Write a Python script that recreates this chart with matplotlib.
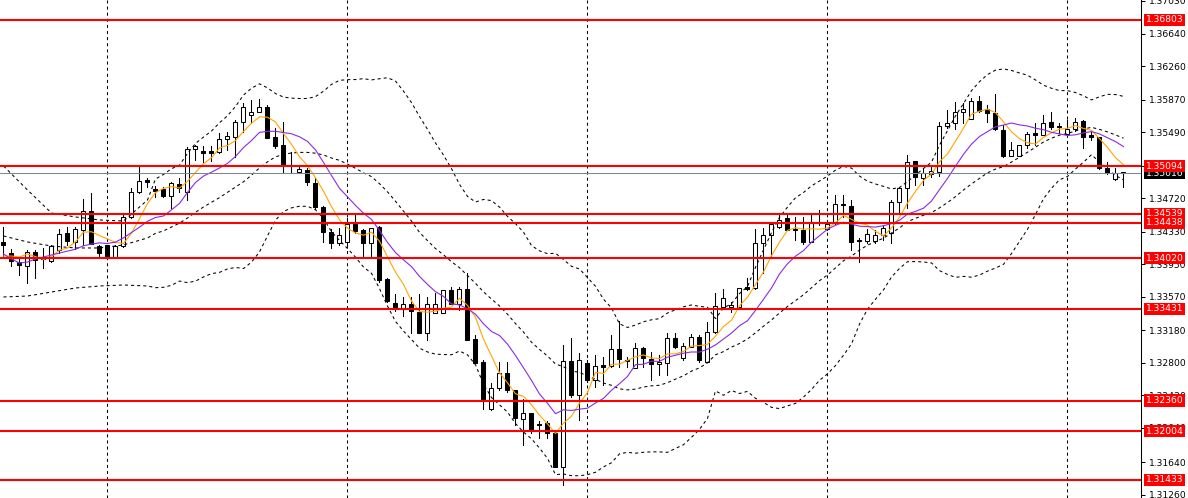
import numpy as np
import pandas as pd
import matplotlib
matplotlib.use("Agg")
import matplotlib.pyplot as plt
import matplotlib.transforms as mtransforms
from matplotlib.patches import Rectangle

plt.rcParams["lines.scale_dashes"] = False

# OHLC of each bar
opens = [
    1.34211, 1.34082, 1.33977, 1.33931, 1.34094, 1.34024, 1.33989, 1.34117, 1.34316, 1.34211,
    1.34351, 1.34573, 1.34164, 1.34176, 1.34024, 1.34164, 1.34503, 1.34795, 1.34935, 1.34830,
    1.34830, 1.34748, 1.34888, 1.34795, 1.35297, 1.35273, 1.35273, 1.35262, 1.35413, 1.35437,
    1.35612, 1.35693, 1.35728, 1.35787, 1.35437, 1.35343, 1.35110, 1.35028, 1.35051, 1.34900,
    1.34619, 1.34328, 1.34199, 1.34211, 1.34421, 1.34351, 1.34199, 1.34386, 1.33779, 1.33499,
    1.33429, 1.33487, 1.33394, 1.33149, 1.33382, 1.33382, 1.33650, 1.33487, 1.33662, 1.33078,
    1.32810, 1.32261, 1.32506, 1.32682, 1.32483, 1.32145, 1.32215, 1.32086, 1.32098, 1.31981,
    1.31584, 1.32822, 1.32425, 1.32798, 1.32600, 1.32775, 1.32763, 1.32962, 1.32833, 1.32740,
    1.32973, 1.32845, 1.32787, 1.32798, 1.33090, 1.32857, 1.32985, 1.33102, 1.32810, 1.33160,
    1.33452, 1.33452, 1.33452, 1.33686, 1.33674, 1.34199, 1.34293, 1.34386, 1.34491, 1.34363,
    1.34351, 1.34211, 1.34433, 1.34363, 1.34433, 1.34654, 1.34631, 1.34234, 1.34223, 1.34223,
    1.34293, 1.34316, 1.34678, 1.34841, 1.35156, 1.34958, 1.35005, 1.35028, 1.35565, 1.35600,
    1.35728, 1.35647, 1.35857, 1.35764, 1.35717, 1.35518, 1.35215, 1.35215, 1.35343, 1.35483,
    1.35460, 1.35612, 1.35565, 1.35472, 1.35530, 1.35623, 1.35460, 1.35437, 1.35075, 1.34946,
    1.35028,
]
highs = [
    1.34386, 1.34129, 1.34036, 1.34117, 1.34117, 1.34141, 1.34176, 1.34363, 1.34386, 1.34386,
    1.34713, 1.34783, 1.34176, 1.34176, 1.34176, 1.34549, 1.34841, 1.35086, 1.34958, 1.34865,
    1.34853, 1.34911, 1.34958, 1.35320, 1.35343, 1.35332, 1.35332, 1.35483, 1.35495, 1.35635,
    1.35834, 1.35869, 1.35880, 1.35810, 1.35542, 1.35612, 1.35262, 1.35110, 1.35075, 1.34958,
    1.34631, 1.34363, 1.34374, 1.34491, 1.34526, 1.34363, 1.34374, 1.34398, 1.33791, 1.33604,
    1.33569, 1.33569, 1.33604, 1.33569, 1.33615, 1.33650, 1.33686, 1.33686, 1.33849, 1.33125,
    1.32833, 1.32565, 1.32810, 1.32810, 1.32483, 1.32378, 1.32215, 1.32121, 1.32121, 1.31993,
    1.33008, 1.33090, 1.32915, 1.32833, 1.32892, 1.32868, 1.33125, 1.33289, 1.32868, 1.33032,
    1.32985, 1.32927, 1.32892, 1.33149, 1.33149, 1.33032, 1.33137, 1.33125, 1.33277, 1.33615,
    1.33662, 1.33510, 1.33674, 1.33791, 1.34363, 1.34374, 1.34444, 1.34526, 1.34526, 1.34503,
    1.34503, 1.34526, 1.34584, 1.34468, 1.34760, 1.34760, 1.34701, 1.34258, 1.34363, 1.34351,
    1.34398, 1.34701, 1.34841, 1.35226, 1.35156, 1.35075, 1.35110, 1.35612, 1.35752, 1.35845,
    1.35834, 1.35892, 1.35915, 1.35810, 1.35939, 1.35577, 1.35378, 1.35343, 1.35495, 1.35600,
    1.35693, 1.35728, 1.35600, 1.35635, 1.35658, 1.35635, 1.35495, 1.35437, 1.35145, 1.35075,
    1.35028,
]
lows = [
    1.34036, 1.33931, 1.33826, 1.33732, 1.33791, 1.33907, 1.33977, 1.34082, 1.34176, 1.34129,
    1.34176, 1.34188, 1.34036, 1.34024, 1.34024, 1.34153, 1.34491, 1.34783, 1.34853, 1.34736,
    1.34736, 1.34608, 1.34795, 1.34701, 1.35168, 1.35145, 1.35156, 1.35250, 1.35285, 1.35203,
    1.35495, 1.35600, 1.35728, 1.35425, 1.35308, 1.35028, 1.35016, 1.35016, 1.34876, 1.34596,
    1.34211, 1.34141, 1.34176, 1.34188, 1.34316, 1.34036, 1.34036, 1.33744, 1.33510, 1.33405,
    1.33347, 1.33149, 1.33149, 1.33067, 1.33382, 1.33382, 1.33487, 1.33417, 1.33067, 1.32798,
    1.32261, 1.32250, 1.32483, 1.32460, 1.32074, 1.31841, 1.31981, 1.31923, 1.31923, 1.31584,
    1.31374, 1.32401, 1.32133, 1.32577, 1.32518, 1.32542, 1.32752, 1.32752, 1.32752, 1.32740,
    1.32752, 1.32600, 1.32658, 1.32658, 1.32973, 1.32833, 1.32985, 1.32810, 1.32810, 1.33149,
    1.33440, 1.33394, 1.33440, 1.33650, 1.33662, 1.33849, 1.34024, 1.34374, 1.34351, 1.34234,
    1.34188, 1.34211, 1.34409, 1.34351, 1.34421, 1.34503, 1.34117, 1.33977, 1.34199, 1.34199,
    1.34234, 1.34199, 1.34561, 1.34608, 1.34876, 1.34876, 1.34970, 1.34981, 1.35542, 1.35530,
    1.35600, 1.35647, 1.35728, 1.35612, 1.35518, 1.35203, 1.35215, 1.35215, 1.35308, 1.35343,
    1.35460, 1.35530, 1.35483, 1.35472, 1.35507, 1.35308, 1.35402, 1.35063, 1.35005, 1.34935,
    1.34853,
]
closes = [
    1.34176, 1.33989, 1.33942, 1.34094, 1.34001, 1.34012, 1.34164, 1.34304, 1.34223, 1.34363,
    1.34573, 1.34188, 1.34082, 1.34024, 1.34164, 1.34503, 1.34795, 1.34923, 1.34911, 1.34806,
    1.34748, 1.34900, 1.34841, 1.35297, 1.35332, 1.35250, 1.35250, 1.35413, 1.35448, 1.35612,
    1.35787, 1.35728, 1.35787, 1.35425, 1.35332, 1.35110, 1.35098, 1.35063, 1.34911, 1.34619,
    1.34328, 1.34199, 1.34293, 1.34421, 1.34339, 1.34199, 1.34374, 1.33767, 1.33522, 1.33429,
    1.33487, 1.33405, 1.33149, 1.33487, 1.33487, 1.33650, 1.33487, 1.33662, 1.33067, 1.32798,
    1.32366, 1.32506, 1.32682, 1.32483, 1.32156, 1.32215, 1.32016, 1.32074, 1.31981, 1.31584,
    1.32822, 1.32425, 1.32833, 1.32600, 1.32763, 1.32752, 1.32962, 1.32845, 1.32822, 1.32973,
    1.32857, 1.32787, 1.32810, 1.33090, 1.32985, 1.32997, 1.33102, 1.32833, 1.33160, 1.33464,
    1.33557, 1.33475, 1.33674, 1.33662, 1.34199, 1.34293, 1.34421, 1.34468, 1.34351, 1.34351,
    1.34211, 1.34444, 1.34444, 1.34421, 1.34654, 1.34643, 1.34211, 1.34223, 1.34304, 1.34293,
    1.34374, 1.34678, 1.34841, 1.35145, 1.34970, 1.35016, 1.35040, 1.35565, 1.35600, 1.35728,
    1.35764, 1.35857, 1.35740, 1.35717, 1.35530, 1.35215, 1.35285, 1.35343, 1.35472, 1.35460,
    1.35600, 1.35553, 1.35553, 1.35530, 1.35612, 1.35437, 1.35437, 1.35075, 1.35016, 1.35016,
    1.35016,
]

# indicator values visible before enough history exists
band_head_idx = [0, 3, 6, 9, 12, 15, 18]
band_head_upper = [1.35098, 1.34818, 1.34549, 1.34503, 1.34468, 1.34456, 1.34701]
band_head_mid = [1.34281, 1.34211, 1.34164, 1.34141, 1.34141, 1.34176, 1.34258]
band_head_lower = [1.33569, 1.33580, 1.33627, 1.33674, 1.33697, 1.33709, 1.33697]
fast_head = [1.34047, 1.34047, 1.34036, 1.34071]
slow_head = [1.34071, 1.34012, 1.33966, 1.33977, 1.34012, 1.34036, 1.34059, 1.34082, 1.34106]

levels = [1.36803, 1.35094, 1.34539, 1.34438, 1.34020, 1.33431, 1.32360, 1.32004, 1.31433]
bid = 1.35016
yticks = [1.37030, 1.36640, 1.36260, 1.35870, 1.35490, 1.35100, 1.34720, 1.34330,
          1.33950, 1.33570, 1.33180, 1.32800, 1.32420, 1.32040, 1.31640, 1.31260]
grid_bars = [13, 43, 73, 103, 133]

n = len(closes)
close = pd.Series(closes)
fast = close.rolling(5).mean()
slow = close.rolling(10).mean()
mid = close.rolling(20).mean()
sd = close.rolling(20).std(ddof=0)

fig = plt.figure(figsize=(11.88, 4.98), dpi=100)
ax = fig.add_axes([0, 0, 1141 / 1188, 1])
ax.set_xlim(-0.4375, 142.19)
ax.set_ylim(1.31222, 1.37036)

for b in grid_bars:
    ax.axvline(b, color="black", lw=0.75, dashes=(2.2, 2.2), zorder=1)

# candles
for i in range(n):
    o, h, l, c = opens[i], highs[i], lows[i], closes[i]
    ax.plot([i, i], [l, h], color="black", lw=0.75, zorder=2)
    fc = "white" if c >= o else "black"
    ax.add_patch(Rectangle((i - 0.25, min(o, c)), 0.5, abs(c - o),
                           facecolor=fc, edgecolor="black", lw=0.75, zorder=3))

# bollinger bands
bx = band_head_idx + list(range(19, n))
upper = band_head_upper + list((mid + 2 * sd)[19:])
middle = band_head_mid + list(mid[19:])
lower = band_head_lower + list((mid - 2 * sd)[19:])
for band in (upper, middle, lower):
    ax.plot(bx, band, color="black", lw=0.75, dashes=(2.2, 2.2), zorder=4)

# moving averages
ax.plot(range(n), fast_head + list(fast[4:]), color="#FFA500", lw=0.8, zorder=4)
ax.plot(range(n), slow_head + list(slow[9:]), color="#8A2BE2", lw=0.8, zorder=4)

# horizontal levels
blend = mtransforms.blended_transform_factory(ax.transAxes, ax.transData)
for lv in levels:
    ax.axhline(lv, color="#FF0000", lw=1.5, zorder=5)
ax.axhline(bid, color="#778899", lw=0.75, zorder=5)

ax.yaxis.tick_right()
ax.set_yticks(yticks)
ax.set_yticklabels(["%.5f" % t for t in yticks])
ax.set_xticks([])
ax.tick_params(axis="y", direction="out", length=3, width=0.75, pad=3,
               labelsize=6.6, colors="black")
for s in ["left", "top", "bottom"]:
    ax.spines[s].set_visible(False)
ax.spines["right"].set_linewidth(0.75)

for lv in levels:
    ax.text(1.004, lv, "%.5f" % lv, transform=blend, va="center", ha="left",
            fontsize=6.6, color="white", clip_on=False, zorder=10,
            bbox=dict(boxstyle="square,pad=0.18", fc="#FF0000", ec="none"))
ax.text(1.004, bid, "%.5f" % bid, transform=blend, va="center", ha="left",
        fontsize=6.6, color="white", clip_on=False, zorder=9,
        bbox=dict(boxstyle="square,pad=0.18", fc="black", ec="none"))

fig.savefig("out.png", dpi=100)
